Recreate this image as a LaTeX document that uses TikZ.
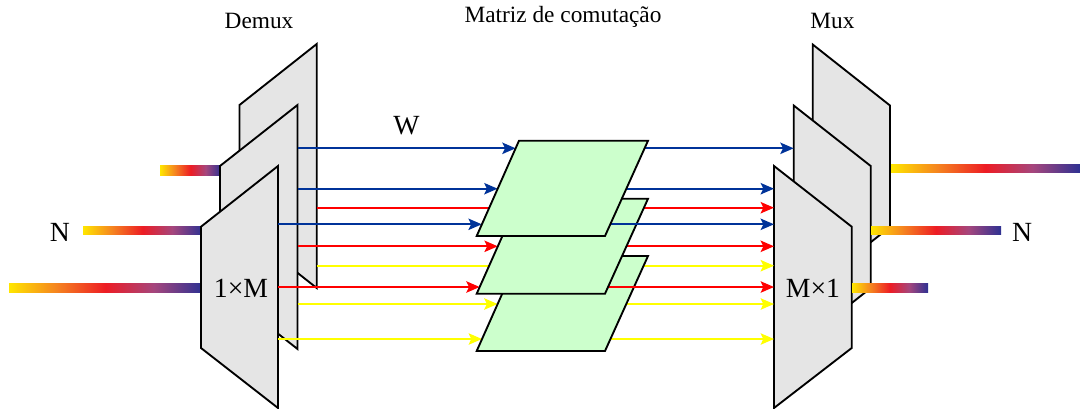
\documentclass[tikz,border=0pt]{standalone}
\usepackage{fontspec}
\setmainfont{Liberation Serif}
\usetikzlibrary{arrows.meta}

\definecolor{panelgray}{RGB}{229,229,229}
\definecolor{planegreen}{RGB}{204,255,204}
\definecolor{wireblue}{RGB}{0,51,153}
\definecolor{wirered}{RGB}{255,0,0}
\definecolor{wireyellow}{RGB}{255,255,0}
\definecolor{bandyellow}{RGB}{255,230,0}
\definecolor{bandorange}{RGB}{245,130,32}
\definecolor{bandred}{RGB}{237,28,36}
\definecolor{bandplum}{RGB}{165,70,125}
\definecolor{bandblue}{RGB}{46,49,146}

\pgfdeclarehorizontalshading{spectrum}{100bp}{
  color(0bp)=(bandyellow);
  color(25bp)=(bandyellow);
  color(37.5bp)=(bandorange);
  color(50bp)=(bandred);
  color(62.5bp)=(bandplum);
  color(75bp)=(bandblue);
  color(100bp)=(bandblue)}

\tikzstyle{panel} = [draw=black, fill=panelgray, line width=1.4pt]
\tikzstyle{plane} = [draw=black, fill=planegreen, line width=1.4pt]
\tikzstyle{band} = [shading=spectrum]
\tikzstyle{arrow} = [line width=1.5pt,-{Stealth[length=10pt,width=8.5pt,inset=2pt]}]
\tikzstyle{caption} = [inner sep=0pt, font=\fontsize{17.5}{20}\selectfont]
\tikzstyle{biglabel} = [inner sep=0pt, font=\fontsize{20.8}{24}\selectfont]

\begin{document}
\begin{tikzpicture}[x=0.75pt,y=-0.75pt]
  \useasboundingbox (0,0) rectangle (1080,408);

  \path [band] (160,165) rectangle (221,175);
  \path [band] (83,226) rectangle (202,234.7);
  \path [band] (9,283.5) rectangle (202,292);

  \draw [panel] (239.5,105) -- (316.7,44) -- (316.7,288) -- (239.5,227) -- cycle;
  \draw [panel] (220,166) -- (297.5,105) -- (297.5,349) -- (220,288) -- cycle;
  \draw [panel] (201,226.7) -- (278,166) -- (278,408) -- (201,348) -- cycle;

  \draw [panel] (812.7,44.5) -- (890,105.5) -- (890,227) -- (812.7,288) -- cycle;
  \draw [panel] (793.7,105.5) -- (870.7,166) -- (870.7,288) -- (793.7,349) -- cycle;
  \path [band] (871,226) rectangle (1001,234.7);
  \draw [panel] (774,166) -- (851.7,226.7) -- (851.7,348) -- (774,408) -- cycle;

  \path [band] (891,164) rectangle (1080,172.7);
  \path [band] (852,283.5) rectangle (928,292);

  \coordinate (Blue 1 From) at (297.5,148.3);
  \coordinate (Blue 1 Tip) at (515.7,148.3);
  \coordinate (Blue 1 Exit) at (600,148.3);
  \coordinate (Blue 1 To) at (793.7,148.3);
  \coordinate (Blue 2 From) at (297.5,188.7);
  \coordinate (Blue 2 Tip) at (497.6,188.7);
  \coordinate (Blue 2 Exit) at (600,188.7);
  \coordinate (Blue 2 To) at (774,188.7);
  \coordinate (Blue 3 From) at (278,224.3);
  \coordinate (Blue 3 Tip) at (481.8,224.3);
  \coordinate (Blue 3 Exit) at (600,224.3);
  \coordinate (Blue 3 To) at (774,224.3);
  \coordinate (Red 1 From) at (316.7,207.7);
  \coordinate (Red 1 Tip) at (515,207.7);
  \coordinate (Red 1 Exit) at (600,207.7);
  \coordinate (Red 1 To) at (774,207.7);
  \coordinate (Red 2 From) at (297.5,246.3);
  \coordinate (Red 2 Tip) at (497.8,246.3);
  \coordinate (Red 2 Exit) at (600,246.3);
  \coordinate (Red 2 To) at (774,246.3);
  \coordinate (Red 3 From) at (278,287);
  \coordinate (Red 3 Tip) at (479.7,287);
  \coordinate (Red 3 Exit) at (600,287);
  \coordinate (Red 3 To) at (774,287);
  \coordinate (Yellow 1 From) at (316.7,265.7);
  \coordinate (Yellow 1 Tip) at (514.7,265.7);
  \coordinate (Yellow 1 Exit) at (600,265.7);
  \coordinate (Yellow 1 To) at (774,265.7);
  \coordinate (Yellow 2 From) at (297.5,304);
  \coordinate (Yellow 2 Tip) at (497.6,304);
  \coordinate (Yellow 2 Exit) at (600,304);
  \coordinate (Yellow 2 To) at (774,304);
  \coordinate (Yellow 3 From) at (278,339);
  \coordinate (Yellow 3 Tip) at (482,339);
  \coordinate (Yellow 3 Exit) at (600,339);
  \coordinate (Yellow 3 To) at (774,339);

  \draw [arrow, wireyellow] (Yellow 1 From) -- (Yellow 1 Tip);
  \draw [arrow, wireyellow] (Yellow 1 Exit) -- (Yellow 1 To);
  \draw [arrow, wireyellow] (Yellow 2 From) -- (Yellow 2 Tip);
  \draw [arrow, wireyellow] (Yellow 2 Exit) -- (Yellow 2 To);
  \draw [arrow, wireyellow] (Yellow 3 From) -- (Yellow 3 Tip);
  \draw [arrow, wireyellow] (Yellow 3 Exit) -- (Yellow 3 To);
  \draw [plane] (519,256) -- (648,256) -- (605,351) -- (476.7,351) -- cycle;

  \draw [arrow, wirered] (Red 1 From) -- (Red 1 Tip);
  \draw [arrow, wirered] (Red 1 Exit) -- (Red 1 To);
  \draw [arrow, wirered] (Red 2 From) -- (Red 2 Tip);
  \draw [arrow, wirered] (Red 2 Exit) -- (Red 2 To);
  \draw [arrow, wirered] (Red 3 From) -- (Red 3 Tip);
  \draw [arrow, wirered] (Red 3 Exit) -- (Red 3 To);
  \draw [plane] (519,198.7) -- (648,198.7) -- (605,293.7) -- (476.7,293.7) -- cycle;

  \draw [arrow, wireblue] (Blue 1 From) -- (Blue 1 Tip);
  \draw [arrow, wireblue] (Blue 1 Exit) -- (Blue 1 To);
  \draw [arrow, wireblue] (Blue 2 From) -- (Blue 2 Tip);
  \draw [arrow, wireblue] (Blue 2 Exit) -- (Blue 2 To);
  \draw [arrow, wireblue] (Blue 3 From) -- (Blue 3 Tip);
  \draw [arrow, wireblue] (Blue 3 Exit) -- (Blue 3 To);
  \draw [plane] (519,140.7) -- (648,140.7) -- (605,236) -- (476.7,236) -- cycle;

  \node (Demux) [caption] at (259,21) {Demux};
  \node (Matriz) [caption] at (563,17) {Matriz de comutação};
  \node (Mux) [caption] at (832.5,21) {Mux};
  \node (W) [biglabel] at (406.5,126) {W};
  \node (N In) [biglabel] at (60,232.5) {N};
  \node (N Out) [biglabel] at (1022,232.5) {N};
  \node (Demux Size) [biglabel] at (241,288.5) {1×M};
  \node (Mux Size) [biglabel] at (813,288.5) {M×1};
\end{tikzpicture}
\end{document}
